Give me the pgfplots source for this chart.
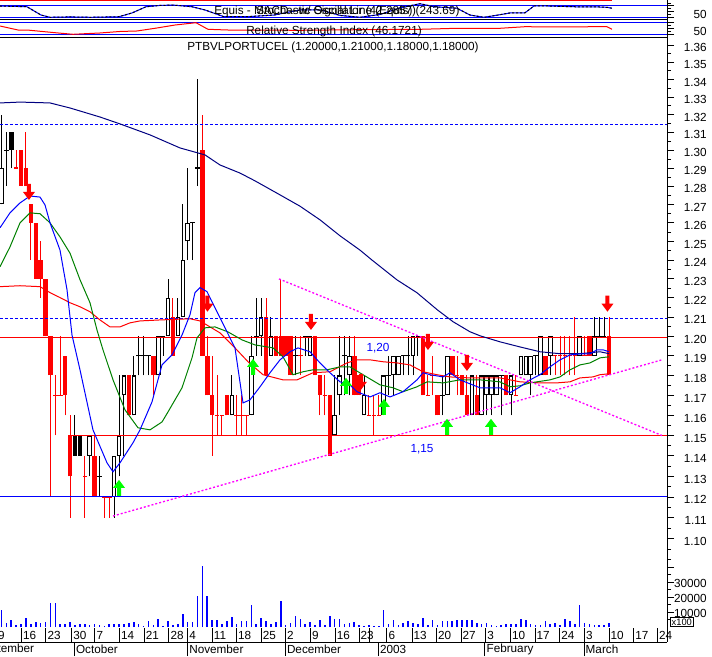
\documentclass[border=0pt]{standalone}
\usepackage{fontspec}
\setmainfont{Liberation Sans}
\usepackage{pgfplots}
\usepackage{pgfplotstable}
\pgfplotsset{compat=1.18}

\definecolor{mred}{RGB}{255,0,0}
\definecolor{mblue}{RGB}{0,0,255}
\definecolor{mnavy}{RGB}{0,0,128}
\definecolor{mgreen}{RGB}{0,128,0}
\definecolor{mmag}{RGB}{255,0,255}
\definecolor{mlime}{RGB}{0,255,0}

% candles, index = trading day (0 = 10 Sep 2002, 124 = 10 Mar 2003)
% hollow (close > open)
\pgfplotstableread{
x o h l c
0 1.27 1.32 1.27 1.29
18 1.14 1.15 1.13 1.15
23 1.12 1.14 1.11 1.14
24 1.14 1.18 1.13 1.15
25 1.17 1.18 1.14 1.18
27 1.16 1.19 1.16 1.18
32 1.18 1.20 1.18 1.20
34 1.20 1.23 1.20 1.22
36 1.20 1.22 1.20 1.21
37 1.21 1.27 1.21 1.24
38 1.25 1.29 1.24 1.26
47 1.16 1.18 1.16 1.17
51 1.16 1.20 1.16 1.19
53 1.20 1.22 1.19 1.21
55 1.19 1.21 1.19 1.20
63 1.19 1.20 1.19 1.20
68 1.15 1.18 1.15 1.16
69 1.17 1.20 1.16 1.18
71 1.18 1.20 1.17 1.19
74 1.16 1.18 1.16 1.17
78 1.16 1.18 1.16 1.18
80 1.18 1.19 1.17 1.19
81 1.18 1.19 1.18 1.19
84 1.19 1.20 1.18 1.20
91 1.17 1.19 1.17 1.19
96 1.16 1.18 1.16 1.18
98 1.16 1.18 1.16 1.18
99 1.17 1.18 1.16 1.18
100 1.17 1.18 1.16 1.18
101 1.17 1.18 1.17 1.18
104 1.17 1.18 1.16 1.18
106 1.18 1.19 1.18 1.19
107 1.18 1.19 1.18 1.19
108 1.18 1.19 1.17 1.19
110 1.18 1.20 1.18 1.20
112 1.19 1.20 1.18 1.20
118 1.19 1.20 1.19 1.20
121 1.19 1.21 1.19 1.20
}\hollow

% red filled (close < open)
\pgfplotstableread{
x o h l c
4 1.30 1.30 1.28 1.28
5 1.29 1.31 1.28 1.28
6 1.27 1.27 1.24 1.26
7 1.26 1.26 1.23 1.23
8 1.24 1.25 1.22 1.23
9 1.23 1.23 1.20 1.20
10 1.20 1.20 1.12 1.18
13 1.19 1.19 1.16 1.17
14 1.15 1.16 1.11 1.13
19 1.14 1.15 1.12 1.12
26 1.18 1.18 1.16 1.16
31 1.19 1.19 1.17 1.18
35 1.21 1.22 1.19 1.19
41 1.30 1.32 1.19 1.19
42 1.19 1.20 1.17 1.17
43 1.17 1.19 1.14 1.16
46 1.17 1.17 1.16 1.16
54 1.21 1.22 1.18 1.18
56 1.20 1.20 1.19 1.19
57 1.20 1.23 1.19 1.19
58 1.20 1.20 1.19 1.19
59 1.20 1.20 1.18 1.18
64 1.20 1.20 1.18 1.18
65 1.18 1.18 1.16 1.17
67 1.17 1.17 1.14 1.14
72 1.19 1.20 1.17 1.17
73 1.18 1.18 1.17 1.17
86 1.20 1.20 1.17 1.17
89 1.17 1.17 1.16 1.16
92 1.19 1.19 1.18 1.18
94 1.18 1.18 1.17 1.17
95 1.17 1.18 1.16 1.16
97 1.17 1.18 1.16 1.16
103 1.18 1.18 1.17 1.17
111 1.19 1.19 1.18 1.18
120 1.20 1.20 1.19 1.19
124 1.20 1.21 1.18 1.18
}\redfill

% black filled
\pgfplotstableread{
x o h l c
2 1.31 1.31 1.29 1.30
15 1.15 1.16 1.14 1.14
16 1.15 1.15 1.14 1.14
}\blackfill

% black dashes (open = close)
\pgfplotstableread{
x o h l c
1 1.30 1.31 1.28 1.30
20 1.13 1.14 1.12 1.13
28 1.19 1.20 1.18 1.19
29 1.19 1.20 1.18 1.19
30 1.19 1.19 1.18 1.19
33 1.20 1.20 1.19 1.20
39 1.26 1.26 1.24 1.26
40 1.29 1.34 1.28 1.29
52 1.20 1.22 1.19 1.20
60 1.19 1.20 1.18 1.19
62 1.20 1.20 1.19 1.20
70 1.19 1.20 1.17 1.19
79 1.18 1.19 1.17 1.18
82 1.19 1.19 1.18 1.19
83 1.19 1.20 1.18 1.19
85 1.20 1.20 1.19 1.20
90 1.17 1.18 1.16 1.17
102 1.18 1.18 1.16 1.18
109 1.19 1.19 1.18 1.19
122 1.20 1.21 1.20 1.20
123 1.20 1.21 1.20 1.20
}\blackdash

% red dashes
\pgfplotstableread{
x o h l c
3 1.29 1.30 1.29 1.29
11 1.17 1.18 1.15 1.17
12 1.17 1.20 1.17 1.17
17 1.13 1.14 1.11 1.13
21 1.12 1.12 1.11 1.12
22 1.12 1.12 1.11 1.12
44 1.16 1.18 1.15 1.16
45 1.16 1.16 1.15 1.16
48 1.16 1.17 1.15 1.16
49 1.16 1.17 1.15 1.16
50 1.16 1.16 1.15 1.16
61 1.19 1.20 1.18 1.19
66 1.17 1.18 1.16 1.17
75 1.16 1.17 1.16 1.16
76 1.16 1.17 1.15 1.16
77 1.16 1.17 1.16 1.16
87 1.17 1.18 1.17 1.17
88 1.18 1.19 1.17 1.18
93 1.18 1.19 1.17 1.18
105 1.17 1.18 1.17 1.17
113 1.19 1.19 1.18 1.19
114 1.19 1.20 1.18 1.19
115 1.19 1.20 1.18 1.19
116 1.19 1.20 1.18 1.19
117 1.19 1.21 1.18 1.19
119 1.19 1.20 1.19 1.19
}\reddash

% volume (x100)
\pgfplotstableread{
x v
0 11100
1 2700
2 4400
3 1100
4 1800
5 5800
6 1800
7 3300
8 2700
9 3600
10 16200
11 16200
12 1800
13 1800
14 3300
15 1100
16 1800
17 1800
18 1100
19 1800
20 1100
21 400
22 1800
23 1800
24 1800
25 2200
26 2700
27 3300
28 1800
29 900
30 3800
31 1100
32 5100
33 400
34 4000
35 1100
36 1800
37 8900
38 3300
39 3300
40 20700
41 40400
42 20700
43 4400
44 4400
45 1800
46 3800
47 6700
48 2200
49 3800
50 3800
51 14400
52 1800
53 6200
54 3800
55 1800
56 3300
57 17100
58 1100
59 2700
60 7100
61 5600
62 1800
63 3300
64 1100
65 4400
66 1100
67 7100
68 5600
69 5600
70 1800
71 2700
72 3300
73 1100
74 700
75 1100
76 400
77 700
78 11100
79 1800
80 4400
81 1100
82 2700
83 3800
84 2700
85 2200
86 6200
87 1100
88 4400
89 1100
90 3800
91 3800
92 3800
93 4400
94 4900
95 4400
96 4400
97 2700
98 2200
99 2700
100 1100
101 400
102 1100
103 1800
104 1800
105 2200
106 5100
107 4400
108 2200
109 1100
110 1100
111 3800
112 1800
113 2700
114 1100
115 5600
116 3800
117 2200
118 14900
119 2700
120 1800
121 1100
122 1100
123 1100
124 2700
}\vol

\pgfdeclareplotmark{dnarrow}{%
  \pgfpathmoveto{\pgfpoint{-1.5pt}{6pt}}%
  \pgfpathlineto{\pgfpoint{1.5pt}{6pt}}%
  \pgfpathlineto{\pgfpoint{1.5pt}{0pt}}%
  \pgfpathlineto{\pgfpoint{4.5pt}{0pt}}%
  \pgfpathlineto{\pgfpoint{0pt}{-6pt}}%
  \pgfpathlineto{\pgfpoint{-4.5pt}{0pt}}%
  \pgfpathlineto{\pgfpoint{-1.5pt}{0pt}}%
  \pgfpathclose\pgfusepathqfill}
\pgfdeclareplotmark{uparrow}{%
  \pgfpathmoveto{\pgfpoint{-1.5pt}{-6pt}}%
  \pgfpathlineto{\pgfpoint{1.5pt}{-6pt}}%
  \pgfpathlineto{\pgfpoint{1.5pt}{0pt}}%
  \pgfpathlineto{\pgfpoint{4.5pt}{0pt}}%
  \pgfpathlineto{\pgfpoint{0pt}{6pt}}%
  \pgfpathlineto{\pgfpoint{-4.5pt}{0pt}}%
  \pgfpathlineto{\pgfpoint{-1.5pt}{0pt}}%
  \pgfpathclose\pgfusepathqfill}

\pgfplotsset{
  panel/.style={anchor=north west, scale only axis, width=500.25pt,
    xmin=-0.306, xmax=135.82, axis x line=none, axis y line*=right,
    tick align=outside, major tick length=5.25pt, minor tick length=3pt,
    tick style={black, line width=0.75pt},
    axis line style={black, line width=0.75pt},
    yticklabel style={anchor=east, xshift=28pt, yshift=-2pt}},
  wick/.style={draw=none, mark=none, error bars/y dir=plus, error bars/y explicit,
    error bars/error mark=none, error bars/error bar style={draw=#1, line width=0.75pt}},
  body/.style 2 args={draw=none, mark=none, error bars/y dir=plus, error bars/y explicit,
    error bars/error mark=none, error bars/error bar style={draw=#1, line width=#2}},
  daterow/.style={anchor=north west, scale only axis, width=521.19pt, height=10.5pt,
    xmin=-6, xmax=135.82, ymin=0, ymax=1, hide y axis, axis x line*=bottom,
    x axis line style={draw=none}, major tick length=0pt, xmajorgrids,
    major grid style={black, line width=0.75pt},
    xticklabel style={anchor=west, inner xsep=1pt, yshift=5.25pt}},
}

\begin{document}
\begin{tikzpicture}[font=\fontsize{8.8}{10}\selectfont]
\useasboundingbox (0,0) rectangle (534pt,-492pt);

% stochastic / MACD strip
\begin{axis}[panel, at={(0pt,0pt)}, height=14.625pt, ymin=8.32, ymax=111.86,
  ytick={20,50,80}, yticklabels={,50,}, minor ytick={35,65,95}]
\addplot[mblue, line width=0.75pt] coordinates {(-0.31,80) (135.82,80)};
\addplot[mblue, line width=0.75pt] coordinates {(-0.31,20) (135.82,20)};
\addplot[mred, line width=1.2pt] coordinates {(-0.31,109) (124.6,109)};
\pgfplotstableread{
x v
-0.31 80
5.2 76
8.06 32
9.9 20
13.98 22
18.27 20
23.98 23
26.63 43
29.49 76
32.35 83
35.0 85
38.88 76
41.53 59
45.41 23
50.1 23
55.61 32
60.92 59
65 60
69.08 30
73.16 20
77.24 35
81.33 70
85.41 92
88.27 76
92.96 68
95.61 32
98.47 20
101.33 32
103.98 44
106.84 44
108.67 80
111.53 80
117.04 76
120.92 76
123.57 73
124.59 68
}\stoch
\addplot[mblue, line width=0.75pt] table[x=x,y=v] {\stoch};
\addplot[black, line width=0.75pt, dash pattern=on 1.5pt off 1.5pt] table[x=x,y=v] {\stoch};
\end{axis}

% RSI strip
\begin{axis}[panel, at={(0pt,-15pt)}, height=12.975pt, ymin=19.66, ymax=79.31,
  ytick={30,50,70}, yticklabels={,50,}, minor ytick={40,60}]
\addplot[mblue, line width=0.75pt] coordinates {(-0.31,70) (135.82,70)};
\addplot[mblue, line width=0.75pt] coordinates {(-0.31,30) (135.82,30)};
\addplot[mred, line width=0.75pt] coordinates {
(-0.31,58.6) (3.37,44.8) (5.2,44.8) (10.92,35.5) (14.59,30) (20.1,34.5)
(24.18,39.7) (27.65,41.4) (31.33,50.7) (35.41,62) (39.69,70) (42.14,47.2)
(46.22,44.8) (60.92,43.8) (73.16,45.9) (85.41,47.2) (92.96,50.7) (101.73,50.7)
(106.84,56.2) (113.98,55.2) (120.92,56.2) (123.57,56.2) (124.59,47.2)};
\end{axis}

% price panel
\begin{axis}[panel, at={(0pt,-27.975pt)}, height=389.775pt, ymode=log,
  ymin=1.09152, ymax=1.364506,
  ytick={1.10,1.11,1.12,1.13,1.14,1.15,1.16,1.17,1.18,1.19,1.20,1.21,1.22,1.23,
         1.24,1.25,1.26,1.27,1.28,1.29,1.30,1.31,1.32,1.33,1.34,1.35,1.36},
  yticklabels={1.10,1.11,1.12,1.13,1.14,1.15,1.16,1.17,1.18,1.19,1.20,1.21,1.22,1.23,
         1.24,1.25,1.26,1.27,1.28,1.29,1.30,1.31,1.32,1.33,1.34,1.35,1.36},
  minor ytick={1.095,1.105,1.115,1.125,1.135,1.145,1.155,1.165,1.175,1.185,1.195,
         1.205,1.215,1.225,1.235,1.245,1.255,1.265,1.275,1.285,1.295,1.305,1.315,
         1.325,1.335,1.345,1.355}]
% wicks
\addplot[wick=black] table[x=x, y=l, y error expr=\thisrow{h}-\thisrow{l}] {\hollow};
\addplot[wick=black] table[x=x, y=l, y error expr=\thisrow{h}-\thisrow{l}] {\blackfill};
\addplot[wick=black] table[x=x, y=l, y error expr=\thisrow{h}-\thisrow{l}] {\blackdash};
\addplot[wick=mred] table[x=x, y=l, y error expr=\thisrow{h}-\thisrow{l}] {\redfill};
\addplot[wick=mred] table[x=x, y=l, y error expr=\thisrow{h}-\thisrow{l}] {\reddash};
% bodies
\addplot[body={black}{3.4pt}] table[x=x, y=o, y error expr=\thisrow{c}-\thisrow{o}] {\hollow};
\addplot[body={white}{1.9pt}] table[x=x, y expr=\thisrow{o}*1.00045,
  y error expr=\thisrow{c}*0.99955-\thisrow{o}*1.00045] {\hollow};
\addplot[body={mred}{3.4pt}] table[x=x, y=c, y error expr=\thisrow{o}-\thisrow{c}] {\redfill};
\addplot[body={black}{3.4pt}] table[x=x, y=c, y error expr=\thisrow{o}-\thisrow{c}] {\blackfill};
\addplot[body={black}{3.4pt}] table[x=x, y expr=\thisrow{c}*0.99978, y error expr=\thisrow{c}*0.00044] {\blackdash};
\addplot[body={mred}{3.4pt}] table[x=x, y expr=\thisrow{c}*0.99978, y error expr=\thisrow{c}*0.00044] {\reddash};
% level lines
\addplot[mblue, line width=0.75pt, dash pattern=on 2.25pt off 1.5pt] coordinates {(-0.31,1.3141) (135.82,1.3141)};
\addplot[mblue, line width=0.75pt, dash pattern=on 2.25pt off 1.5pt] coordinates {(-0.31,1.2091) (135.82,1.2091)};
\addplot[mred, line width=0.75pt] coordinates {(-0.31,1.1995) (135.82,1.1995)};
\addplot[mred, line width=0.75pt] coordinates {(13.6,1.1500) (135.82,1.1500)};
\addplot[mblue, line width=0.75pt] coordinates {(-0.31,1.1205) (135.82,1.1205)};
% moving averages
\addplot[mnavy, line width=0.75pt] coordinates {
(-0.31,1.3266) (3.78,1.3271) (9.9,1.3266) (13.98,1.3237) (20.1,1.3186) (24.18,1.3147)
(30.3,1.3085) (36.43,1.3012) (41.53,1.2973) (44.59,1.2917) (48.67,1.2872) (51.73,1.2829)
(56.84,1.2752) (60.92,1.2690) (65.0,1.2616) (69.08,1.2530) (73.16,1.2453) (75.61,1.2400)
(80.71,1.2295) (84.8,1.2227) (88.88,1.2139) (92.14,1.2076) (95.61,1.2024) (97.65,1.2003)
(101.73,1.1972) (105.82,1.1946) (109.9,1.1921) (113.98,1.1911) (118.06,1.1911)
(122.14,1.1921) (124.0,1.1911)};
\addplot[mred, line width=0.75pt] coordinates {
(-0.31,1.2259) (3.78,1.2264) (7.86,1.2259) (9.9,1.2228) (11.94,1.2202) (13.98,1.2175)
(16.02,1.2154) (18.06,1.2128) (20.1,1.2085) (22.14,1.2049) (24.18,1.2049) (26.22,1.2070)
(28.27,1.2080) (32.35,1.2085) (38.47,1.2091) (40.51,1.2080) (42.55,1.2049) (44.59,1.2018)
(47.65,1.1941) (50.31,1.1870) (53.37,1.1804) (57.45,1.1778) (60.31,1.1778) (63.57,1.1814)
(67.04,1.1819) (70.51,1.1864) (72.55,1.1880) (75.2,1.1880) (77.86,1.1870) (80.71,1.1864)
(83.37,1.1854) (86.02,1.1819) (88.88,1.1804) (91.53,1.1793) (95.61,1.1788) (101.73,1.1788)
(105.82,1.1768) (109.9,1.1763) (113.37,1.1763) (116.02,1.1768) (118.06,1.1788)
(120.71,1.1793) (122.14,1.1804) (124.0,1.1809)};
\addplot[mgreen, line width=0.75pt] coordinates {
(-0.31,1.2364) (1.73,1.2470) (3.78,1.2600) (5.82,1.2654) (7.86,1.2649) (9.9,1.2600)
(11.94,1.2524) (13.98,1.2437) (16.02,1.2296) (18.06,1.2175) (19.49,1.2033) (20.71,1.1931)
(22.76,1.1778) (25.2,1.1627) (27.86,1.1538) (30.31,1.1528) (32.76,1.1567) (33.98,1.1617)
(36.84,1.1738) (38.88,1.1890) (39.9,1.1992) (41.53,1.2044) (43.57,1.2049) (46.22,1.2023)
(49.08,1.1982) (51.73,1.1956) (55.41,1.1941) (57.45,1.1895) (59.49,1.1804) (61.53,1.1819)
(63.57,1.1829) (66.43,1.1829) (69.08,1.1844) (71.12,1.1844) (73.78,1.1804) (77.24,1.1753)
(79.9,1.1738) (81.94,1.1718) (84.8,1.1743) (86.84,1.1768) (90.1,1.1763) (93.57,1.1778)
(97.65,1.1778) (101.73,1.1768) (103.78,1.1743) (105.82,1.1748) (107.86,1.1763)
(111.94,1.1778) (113.98,1.1793) (116.02,1.1829) (118.06,1.1854) (120.1,1.1864)
(122.14,1.1890) (124.0,1.1895)};
\addplot[mblue, line width=0.75pt] coordinates {
(-0.31,1.2573) (1.73,1.2654) (3.78,1.2708) (5.82,1.2746) (7.86,1.2740) (8.88,1.2697)
(9.9,1.2600) (11.94,1.2453) (13.37,1.2243) (14.39,1.2007) (16.02,1.1829) (18.67,1.1528)
(21.53,1.1366) (22.76,1.1322) (24.18,1.1366) (26.84,1.1464) (28.27,1.1528) (30.71,1.1667)
(32.76,1.1854) (34.8,1.1905) (36.84,1.2007) (38.47,1.2112) (39.49,1.2228) (40.51,1.2254)
(41.94,1.2233) (43.57,1.2149) (45.61,1.2044) (47.65,1.1941) (49.29,1.1662) (50.71,1.1677)
(52.76,1.1743) (54.8,1.1814) (56.84,1.1880) (58.88,1.1921) (60.51,1.1941) (62.96,1.1921)
(65.0,1.1864) (67.04,1.1814) (69.08,1.1768) (71.12,1.1753) (72.55,1.1718) (75.2,1.1692)
(77.24,1.1713) (79.29,1.1692) (81.94,1.1718) (84.8,1.1778) (86.02,1.1814) (87.45,1.1804)
(90.1,1.1793) (91.53,1.1814) (93.57,1.1778) (97.65,1.1738) (101.73,1.1738) (103.78,1.1713)
(105.82,1.1743) (107.86,1.1778) (109.9,1.1804) (111.94,1.1844) (113.98,1.1880)
(116.02,1.1905) (118.06,1.1910) (120.1,1.1910) (121.53,1.1931) (122.76,1.1931) (124.0,1.1921)};
% trend lines
\addplot[mmag, line width=1pt, dash pattern=on 1.5pt off 1.5pt] coordinates {(22.76,1.1109) (134.8,1.1880)};
\addplot[mmag, line width=1pt, dash pattern=on 1.5pt off 1.5pt] coordinates {(56.63,1.2300) (134.8,1.1500)};
% signals
\addplot[only marks, mark=dnarrow, mred, mark options={fill=mred, draw=none}] coordinates {
(5.61,1.2768) (42.04,1.2170) (63.16,1.2075) (73.37,1.1768) (87.04,1.1971) (95.0,1.1864) (123.67,1.2170)};
\addplot[only marks, mark=uparrow, mlime, mark options={fill=mlime, draw=none}] coordinates {
(23.98,1.1244) (51.33,1.1844) (70.31,1.1748) (78.06,1.1642) (90.92,1.1543) (99.9,1.1543)};
\end{axis}

% volume panel
\begin{axis}[panel, at={(0pt,-417.75pt)}, height=52.5pt, ymin=0, ymax=46667,
  ytick={10000,20000,30000,40000}, yticklabels={10000,20000,30000,},
  minor ytick={5000,15000,25000,35000,45000}, scaled y ticks=false,
  yticklabel style={yshift=1pt}]
\addplot[ycomb, mblue, line width=1.2pt, mark=none] table[x=x, y=v] {\vol};
\end{axis}

% day row
\begin{axis}[daterow, at={(-20.925pt,-471pt)},
  xtick={-1,4.08,9.08,14.33,19.08,24.1,29.14,34.18,38,43.02,47.96,53,57.94,63.06,68.1,72.96,75,
         78.67,83.78,88.78,93.78,98.84,103.88,108.88,113.94,118.98,123.98,129.04,133.88},
  xticklabels={9,16,23,30,7,14,21,28,4,11,18,25,2,9,16,23,,6,13,20,27,3,10,17,24,3,10,17,24}]
\addplot[draw=none] coordinates {(0,0.5)};
\end{axis}

% month row
\begin{axis}[daterow, at={(-20.925pt,-481.5pt)},
  xtick={-5.4,14.88,38,57.94,76.94,98.67,118.9},
  xticklabels={September,October,November,December,2003,February,March}]
\addplot[draw=none] coordinates {(0,0.5)};
\end{axis}

\begin{scope}[x=0.75pt, y=-0.75pt]
\draw[mred, line width=1.1pt] (0,0.7) -- (612,0.7);
\draw[line width=1pt] (0,19.75) -- (667,19.75);
\draw[line width=1pt] (0,37.3) -- (667,37.3);
\draw[line width=0.75pt] (0,642) -- (667,642);
\draw[line width=0.75pt] (667,0) -- (667,642);
\node[anchor=west, inner sep=0pt] at (214,11) {Equis - MACD - w/ Signal Line (Equis) (243.69)};
\node[anchor=west, inner sep=0pt] at (256,11) {Stochastic Oscillator (42.2857)};
\node[inner sep=0pt] at (334,31) {Relative Strength Index (46.1721)};
\node[inner sep=0pt] at (333,47) {PTBVLPORTUCEL (1.20000,1.21000,1.18000,1.18000)};
\node[text=mblue, inner sep=0pt] at (378,348) {1,20};
\node[text=mblue, inner sep=0pt] at (422,449) {1,15};
\node[draw, line width=0.5pt, inner sep=1pt, anchor=south west,
  font=\fontsize{7}{8}\selectfont] at (670,627) {x100};
\end{scope}
\end{tikzpicture}
\end{document}
